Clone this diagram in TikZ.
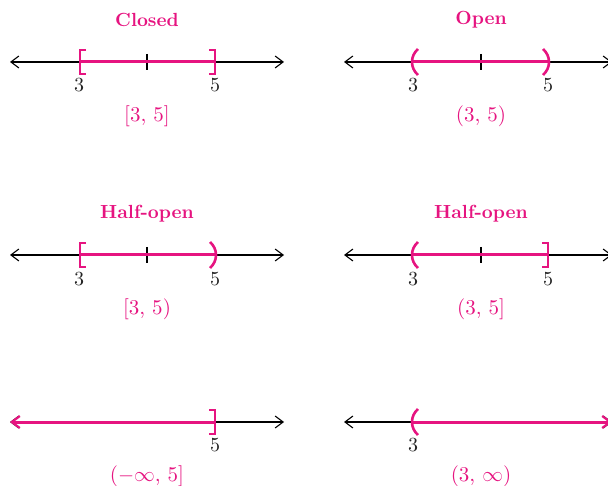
\documentclass[tikz,border=0pt]{standalone}
\usepackage{fontspec}
\setmainfont{lmroman10}[Extension=.otf, UprightFont=*-regular, BoldFont=*-bold, ItalicFont=*-italic]
\usetikzlibrary{arrows.meta}
\definecolor{mag}{RGB}{230,20,128}
\definecolor{numgray}{RGB}{35,35,35}
\tikzset{
  axis/.style={draw=black, line width=1.1pt, {Straight Barb[length=8pt,width=12pt]}-{Straight Barb[length=8pt,width=12pt]}},
  interval/.style={draw=mag, line width=3pt},
  rayarrow/.style={draw=mag, line width=3pt},
  brk/.style={draw=mag, line width=2.6pt},
  tickmark/.style={draw=black, line width=1.1pt},
  title/.style={text=mag, font=\fontsize{19}{21}\selectfont\bfseries},
  ilabel/.style={text=mag, font=\fontsize{21}{23}\selectfont},
  num/.style={text=numgray, font=\fontsize{20}{22}\selectfont},
  lbrack/.pic={\draw[brk] (6,-12) -- (0,-12) -- (0,12) -- (6,12);},
  rbrack/.pic={\draw[brk] (-6,-12) -- (0,-12) -- (0,12) -- (-6,12);},
  lparen/.pic={\draw[brk] (5,-13) .. controls (-3,-6) and (-3,6) .. (5,13);},
  rparen/.pic={\draw[brk] (-5,-13) .. controls (3,-6) and (3,6) .. (-5,13);},
}
\begin{document}
\begin{tikzpicture}[x=1pt,y=-1pt]
\useasboundingbox (0,0) rectangle (608,486);

% ---------- Closed ----------
\node[title] (t1) at (147,20) {Closed};
\coordinate (a1) at (10,62); \coordinate (b1) at (284,62);
\coordinate (p1) at (80,62); \coordinate (m1) at (147,62); \coordinate (q1) at (215,62);
\draw[axis] (a1) -- (b1);
\draw[tickmark] ([yshift=8pt]m1) -- ([yshift=-8pt]m1);
\draw[interval] (p1) -- (q1);
\pic at (p1) {lbrack}; \pic at (q1) {rbrack};
\node[num] (n1a) at (79,85) {3}; \node[num] (n1b) at (215,85) {5};
\node[ilabel] (l1) at (147,116) {[3, 5]};

% ---------- Open ----------
\node[title] (t2) at (481,20) {Open};
\coordinate (a2) at (344,62); \coordinate (b2) at (612,62);
\coordinate (p2) at (413,62); \coordinate (m2) at (481,62); \coordinate (q2) at (548,62);
\draw[axis] (a2) -- (b2);
\draw[tickmark] ([yshift=8pt]m2) -- ([yshift=-8pt]m2);
\draw[interval] (p2) -- (q2);
\pic at (p2) {lparen}; \pic at (q2) {rparen};
\node[num] (n2a) at (413,85) {3}; \node[num] (n2b) at (548,85) {5};
\node[ilabel] (l2) at (481,116) {(3, 5)};

% ---------- Half-open [3,5) ----------
\node[title] (t3) at (147,214) {Half-open};
\coordinate (a3) at (10,255); \coordinate (b3) at (284,255);
\coordinate (p3) at (80,255); \coordinate (m3) at (147,255); \coordinate (q3) at (215,255);
\draw[axis] (a3) -- (b3);
\draw[tickmark] ([yshift=8pt]m3) -- ([yshift=-8pt]m3);
\draw[interval] (p3) -- (q3);
\pic at (p3) {lbrack}; \pic at (q3) {rparen};
\node[num] (n3a) at (79,279) {3}; \node[num] (n3b) at (215,279) {5};
\node[ilabel] (l3) at (147,309) {[3, 5)};

% ---------- Half-open (3,5] ----------
\node[title] (t4) at (481,214) {Half-open};
\coordinate (a4) at (344,255); \coordinate (b4) at (612,255);
\coordinate (p4) at (413,255); \coordinate (m4) at (481,255); \coordinate (q4) at (548,255);
\draw[axis] (a4) -- (b4);
\draw[tickmark] ([yshift=8pt]m4) -- ([yshift=-8pt]m4);
\draw[interval] (p4) -- (q4);
\pic at (p4) {lparen}; \pic at (q4) {rbrack};
\node[num] (n4a) at (413,279) {3}; \node[num] (n4b) at (548,279) {5};
\node[ilabel] (l4) at (481,309) {(3, 5]};

% ---------- (-inf,5] ----------
\coordinate (a5) at (10,422); \coordinate (b5) at (284,422);
\coordinate (q5) at (215,422);
\draw[axis] (a5) -- (b5);
\draw[rayarrow, {Straight Barb[length=8pt,width=12pt,line width=2.2pt]}-] (a5) -- (q5);
\pic at (q5) {rbrack};
\node[num] (n5) at (215,445) {5};
\node[ilabel] (l5) at (147,476) {($-\infty$, 5]};

% ---------- (3,inf) ----------
\coordinate (a6) at (344,422); \coordinate (b6) at (612,422);
\coordinate (p6) at (413,422);
\draw[axis] (a6) -- (b6);
\draw[rayarrow, -{Straight Barb[length=8pt,width=12pt,line width=2.2pt]}] (p6) -- (b6);
\pic at (p6) {lparen};
\node[num] (n6) at (413,445) {3};
\node[ilabel] (l6) at (481,476) {(3, $\infty$)};
\end{tikzpicture}
\end{document}
